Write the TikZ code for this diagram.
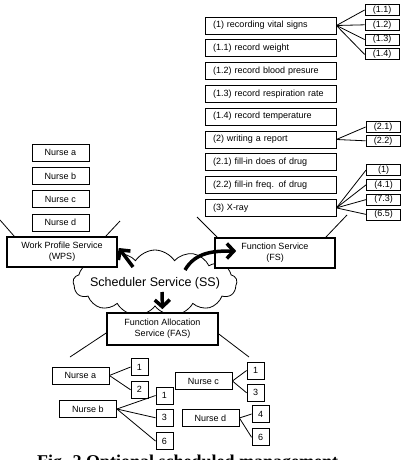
\documentclass[tikz,border=0pt]{standalone}
\usepackage{fontspec}
\setmainfont{Liberation Sans}
\newfontfamily\capfont{Liberation Serif}
\usetikzlibrary{positioning,shapes.symbols,arrows.meta}

\tikzset{
  task/.style = {draw, line width=0.8pt, text width=115pt, inner xsep=8pt, inner ysep=0pt,
                 minimum height=17pt, text height=6.5pt, text depth=2pt, font=\fontsize{9}{10}\selectfont},
  sub/.style = {draw, line width=0.8pt, minimum width=34pt, minimum height=11pt, inner sep=0pt,
                text height=6.5pt, text depth=2pt, font=\fontsize{9}{10}\selectfont},
  service/.style = {draw, fill=white, line width=1.6pt, align=center, inner sep=0pt, font=\fontsize{9}{11}\selectfont},
  nurse/.style = {draw, line width=0.8pt, minimum width=57pt, minimum height=17pt, inner sep=0pt,
                  font=\fontsize{9}{10}\selectfont},
  slot/.style = {draw, line width=0.8pt, minimum size=17pt, inner sep=0pt, font=\fontsize{9}{10}\selectfont},
  bigarrow/.style = {line width=3.5pt, -{Straight Barb[length=7pt,width=15pt]}}
}

\begin{document}
\begin{tikzpicture}[x=1pt, y=-1pt, node distance=5pt]
\useasboundingbox (0,0) rectangle (404,460);

% function list
\node [task] (t1) at (270.5,25.5) {(1) recording vital signs};
\node [task] (t11) [below = of t1] {(1.1) record weight};
\node [task] (t12) [below = of t11] {(1.2) record blood presure};
\node [task] (t13) [below = of t12] {(1.3) record respiration rate};
\node [task] (t14) [below = of t13] {(1.4) record temperature};
\node [task] (t2) [below = of t14] {(2) writing a report};
\node [task] (t21) [below = of t2] {(2.1) fill-in does of drug};
\node [task] (t22) [below = of t21] {(2.2) fill-in freq. of drug};
\node [task] (t3) [below = of t22] {(3) X-ray};

\node [sub] (s11) at (382,10) {(1.1)};
\node [sub] (s12) [below = 3pt of s11] {(1.2)};
\node [sub] (s13) [below = 3pt of s12] {(1.3)};
\node [sub] (s14) [below = 3pt of s13] {(1.4)};
\node [sub] (s21) at (383,127) {(2.1)};
\node [sub] (s22) [below = 2pt of s21] {(2.2)};
\node [sub] (s31) at (383.5,170) {(1)};
\node [sub] (s32) [below = 3pt of s31] {(4.1)};
\node [sub] (s33) [below = 3pt of s32] {(7.3)};
\node [sub] (s34) [below = 3pt of s33] {(6.5)};

\path[line width=0.8pt]
(t1.east) edge (s11.west)
          edge (s12.west)
          edge (s13.west)
          edge (s14.west)
(t2.east) edge (s21.west)
          edge (s22.west)
(t3.east) edge (s31.west)
          edge (s32.west)
          edge (s33.west)
          edge (s34.west);

% nurse list
\node [nurse] (la) at (60.5,152.5) {Nurse a};
\node [nurse] (lb) [below = 5.5pt of la] {Nurse b};
\node [nurse] (lc) [below = 5.5pt of lb] {Nurse c};
\node [nurse] (ld) [below = 5.5pt of lc] {Nurse d};

% scheduler cloud, then the services over it
\node [cloud, draw, fill=white, line width=0.8pt, cloud puffs=13, cloud puff arc=115, aspect=2.5,
       minimum width=164pt, minimum height=66pt, inner sep=0pt,
       label={[font=\fontsize{12.5}{14}\selectfont]center:Scheduler Service (SS)}]
      (ss) at (155,283) {};
\node [service, minimum width=110pt, minimum height=30pt] (wps) at (62,252) {Work Profile Service\\(WPS)};
\node [service, minimum width=120pt, minimum height=30pt] (fs) at (275,253) {Function Service\\(FS)};
\node [service, minimum width=111pt, minimum height=32pt] (fas) at (162.5,329) {Function Allocation\\Service (FAS)};

\coordinate (wpsL) at (0,220);
\coordinate (wpsR) at (120,221);
\coordinate (fsL) at (197,217);
\coordinate (fsR) at (347,215);
\coordinate (fasL) at (70,357);
\coordinate (fasR) at (249,357);
\draw[line width=0.8pt] ([xshift=8pt]wps.north west) -- (wpsL);
\draw[line width=0.8pt] ([xshift=-12pt]wps.north east) -- (wpsR);
\draw[line width=0.8pt] ([xshift=3pt]fs.north west) -- (fsL);
\draw[line width=0.8pt] ([xshift=-10pt]fs.north east) -- (fsR);
\draw[line width=0.8pt] ([yshift=-4pt]fas.west) -- (fasL);
\draw[line width=0.8pt] ([yshift=-5pt]fas.east) -- (fasR);

% scheduler arrows
\draw[bigarrow] ([shift={(-22,-16)}]ss.center) -- ([shift={(1,-4)}]wps.east);
\draw[bigarrow] ([shift={(30,-13)}]ss.center) to[out=60, in=180] ([shift={(22,-2)}]fs.west);
\draw[bigarrow] ([shift={(7,9)}]ss.center) -- ([yshift=3pt]fas.north);

% allocation
\node [nurse] (na) at (80.5,375.5) {Nurse a};
\node [slot] (na1) at (139.5,367) {1};
\node [slot] (na2) [below = of na1] {2};
\node [nurse] (nc) at (203.5,381) {Nurse c};
\node [slot] (nc1) at (255.5,370.5) {1};
\node [slot] (nc3) [below = 4.5pt of nc1] {3};
\node [nurse] (nb) at (88,409) {Nurse b};
\node [slot] (nb1) at (164.5,395.5) {1};
\node [slot] (nb3) [below = 4.5pt of nb1] {3};
\node [slot] (nb6) [below = 5.5pt of nb3] {6};
\node [nurse] (nd) at (210.5,418) {Nurse d};
\node [slot] (nd4) at (260.5,414) {4};
\node [slot] (nd6) [below = 5.5pt of nd4] {6};

\path[line width=0.8pt]
(na.east) edge (na1.west)
          edge (na2.west)
(nb.east) edge (nb1.west)
          edge (nb3.west)
          edge (nb6.west)
(nc.east) edge (nc1.west)
          edge (nc3.west)
(nd.east) edge (nd4.west)
          edge (nd6.west);

% caption (cut at the page edge)
\node [anchor=base west, inner sep=0pt, font=\capfont\bfseries\fontsize{18}{20}\selectfont]
      (cap) at (37,467) {Fig. 2 Optional scheduled management};
\end{tikzpicture}
\end{document}
